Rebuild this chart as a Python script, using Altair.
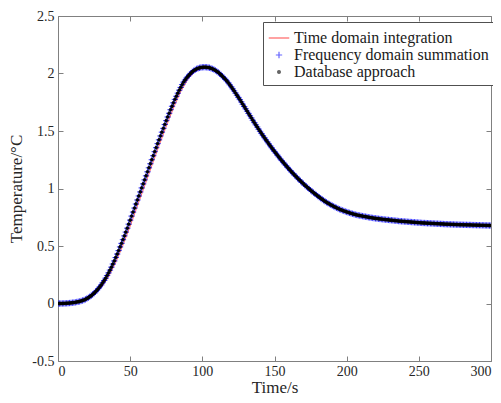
import altair as alt
import pandas as pd

series_names = ["Time domain integration", "Frequency domain summation", "Database approach"]
series_colors = ["#ff0000", "#0000ff", "#000000"]
legend_shapes = ["stroke", "M-1,0L1,0M0,-1L0,1", "circle"]
legend_sizes = [420, 40, 8]

x_ticks = [0, 50, 100, 150, 200, 250, 300]
y_ticks = [-0.5, 0, 0.5, 1, 1.5, 2, 2.5]

# markers: one every second
marker_time = list(range(0, 301))
freq_values = [
    0.000, 0.000, 0.000, 0.000, 0.001, 0.001, 0.002, 0.003, 0.004, 0.005,
    0.007, 0.008, 0.010, 0.013, 0.015, 0.018, 0.022, 0.026, 0.030, 0.036,
    0.043, 0.050, 0.059, 0.068, 0.078, 0.090, 0.102, 0.115, 0.130, 0.146,
    0.162, 0.181, 0.200, 0.220, 0.243, 0.266, 0.290, 0.316, 0.343, 0.370,
    0.400, 0.430, 0.460, 0.492, 0.523, 0.555, 0.588, 0.621, 0.655, 0.690,
    0.725, 0.760, 0.795, 0.830, 0.865, 0.900, 0.935, 0.970, 1.005, 1.040,
    1.075, 1.110, 1.145, 1.180, 1.215, 1.250, 1.285, 1.320, 1.355, 1.390,
    1.423, 1.457, 1.490, 1.523, 1.557, 1.590, 1.622, 1.654, 1.685, 1.715,
    1.745, 1.775, 1.802, 1.829, 1.855, 1.879, 1.903, 1.925, 1.943, 1.960,
    1.975, 1.989, 2.002, 2.015, 2.024, 2.032, 2.040, 2.045, 2.049, 2.052,
    2.054, 2.055, 2.055, 2.054, 2.052, 2.050, 2.045, 2.040, 2.035, 2.027,
    2.019, 2.010, 1.999, 1.987, 1.975, 1.962, 1.949, 1.935, 1.919, 1.902,
    1.885, 1.867, 1.849, 1.830, 1.811, 1.792, 1.773, 1.753, 1.733, 1.713,
    1.693, 1.673, 1.653, 1.633, 1.613, 1.593, 1.573, 1.554, 1.535, 1.516,
    1.497, 1.478, 1.460, 1.442, 1.424, 1.407, 1.389, 1.372, 1.355, 1.338,
    1.322, 1.306, 1.290, 1.274, 1.258, 1.243, 1.228, 1.213, 1.199, 1.184,
    1.170, 1.156, 1.142, 1.129, 1.116, 1.103, 1.090, 1.077, 1.065, 1.053,
    1.041, 1.029, 1.018, 1.007, 0.996, 0.985, 0.974, 0.964, 0.954, 0.944,
    0.934, 0.924, 0.915, 0.906, 0.897, 0.888, 0.880, 0.873, 0.865, 0.858,
    0.851, 0.845, 0.838, 0.832, 0.826, 0.820, 0.815, 0.810, 0.805, 0.801,
    0.796, 0.792, 0.788, 0.784, 0.780, 0.777, 0.773, 0.770, 0.767, 0.765,
    0.762, 0.760, 0.757, 0.755, 0.753, 0.750, 0.748, 0.746, 0.744, 0.742,
    0.740, 0.739, 0.737, 0.735, 0.734, 0.732, 0.731, 0.729, 0.728, 0.727,
    0.725, 0.724, 0.723, 0.721, 0.720, 0.719, 0.717, 0.716, 0.715, 0.714,
    0.713, 0.712, 0.711, 0.710, 0.709, 0.708, 0.707, 0.706, 0.705, 0.704,
    0.703, 0.702, 0.701, 0.700, 0.700, 0.699, 0.698, 0.698, 0.697, 0.696,
    0.696, 0.695, 0.694, 0.694, 0.693, 0.692, 0.692, 0.691, 0.690, 0.690,
    0.689, 0.689, 0.688, 0.688, 0.687, 0.687, 0.686, 0.686, 0.685, 0.685,
    0.685, 0.684, 0.684, 0.684, 0.683, 0.683, 0.683, 0.682, 0.682, 0.682,
    0.681, 0.681, 0.681, 0.680, 0.680, 0.680, 0.679, 0.679, 0.679, 0.678,
    0.678,
]
db_values = list(freq_values)

# time domain integration line: one value every 5 s
line_time = list(range(0, 301, 5))
time_values = [
    0.000, 0.001, 0.005, 0.014, 0.033, 0.073, 0.138, 0.232, 0.357, 0.507,
    0.672, 0.848, 1.022, 1.198, 1.373, 1.540, 1.700, 1.842, 1.950, 2.020,
    2.046, 2.050, 2.018, 1.962, 1.885, 1.792, 1.693, 1.593, 1.497, 1.407,
    1.322, 1.243, 1.170, 1.103, 1.041, 0.985, 0.934, 0.888, 0.851, 0.820,
    0.796, 0.777, 0.762, 0.750, 0.740, 0.732, 0.725, 0.719, 0.713, 0.708,
    0.703, 0.699, 0.696, 0.692, 0.689, 0.687, 0.685, 0.683, 0.681, 0.680,
    0.678,
]

df_line = pd.DataFrame({"t": line_time, "v": time_values, "series": series_names[0]})
df_pts = pd.concat([
    pd.DataFrame({"t": marker_time, "v": freq_values, "series": series_names[1]}),
    pd.DataFrame({"t": marker_time, "v": db_values, "series": series_names[2]}),
], ignore_index=True)

FONT = "Liberation Serif, Times New Roman, serif"

x_scale = alt.Scale(domain=[0, 300], nice=False, zero=False)
y_scale = alt.Scale(domain=[-0.5, 2.5], nice=False, zero=False)
color_scale = alt.Scale(domain=series_names, range=series_colors)
shape_scale = alt.Scale(domain=series_names, range=legend_shapes)
size_scale = alt.Scale(type="ordinal", domain=series_names, range=legend_sizes)

line = alt.Chart(df_line).mark_line(strokeWidth=1, opacity=0.6, clip=True).encode(
    x=alt.X("t:Q", scale=x_scale,
            axis=alt.Axis(title="Time/s", values=x_ticks, orient="bottom", offset=-5,
                          tickSize=5, domain=False, grid=False, labelPadding=3, titlePadding=1)),
    y=alt.Y("v:Q", scale=y_scale,
            axis=alt.Axis(title="Temperature/°C", values=y_ticks, orient="left",
                          labelExpr="'' + datum.value", offset=-5, tickSize=5,
                          domain=False, grid=False, labelPadding=4, titlePadding=6)),
    stroke=alt.Stroke("series:N", scale=color_scale, legend=alt.Legend(title=None)),
)

pts = alt.Chart(df_pts).mark_point(strokeWidth=0.8, opacity=1, clip=True).encode(
    x=alt.X("t:Q", scale=x_scale,
            axis=alt.Axis(orient="top", values=x_ticks, labels=False, title=None, offset=-5,
                          tickSize=5, domain=False, grid=False)),
    y=alt.Y("v:Q", scale=y_scale,
            axis=alt.Axis(orient="right", values=y_ticks, labels=False, title=None, offset=-5,
                          tickSize=5, domain=False, grid=False)),
    stroke=alt.Stroke("series:N", scale=color_scale, legend=alt.Legend(title=None)),
    fill=alt.Fill("series:N", scale=color_scale, legend=alt.Legend(title=None)),
    shape=alt.Shape("series:N", scale=shape_scale, legend=alt.Legend(title=None)),
    size=alt.Size("series:N", scale=size_scale, legend=alt.Legend(title=None)),
)

chart = alt.layer(line, pts).resolve_axis(x="independent", y="independent").properties(
    width=433, height=345,
    padding={"left": 50, "top": 8, "right": 2, "bottom": 42},
    autosize=alt.AutoSizeParams(type="none"),
    background="white",
).configure_view(
    stroke="#808080", strokeWidth=1
).configure_axis(
    labelFont=FONT, titleFont=FONT,
    labelFontSize=14, titleFontSize=17, titleFontWeight="normal",
    labelColor="#262626", titleColor="#262626", tickColor="#808080", tickWidth=1,
).configure_legend(
    orient="none", legendX=205, legendY=6, fillColor="white", strokeColor="#505050",
    padding=5, labelFont=FONT, labelFontSize=16, labelColor="#1a1a1a", labelLimit=0,
    symbolStrokeWidth=1.2, rowPadding=1, labelOffset=4, cornerRadius=0,
)

chart.save("out.html", embed_options={"renderer": "svg", "actions": False})
